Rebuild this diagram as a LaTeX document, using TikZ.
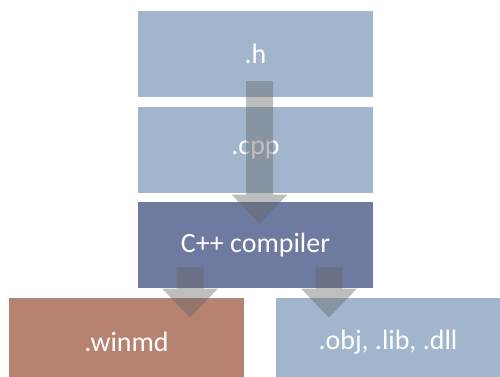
\documentclass[tikz,border=0pt]{standalone}
\usepackage{fontspec}
\setmainfont{Carlito}
\usepackage{xcolor}
\usetikzlibrary{arrows.meta,positioning,calc}

\definecolor{srcblue}{HTML}{A1B6CD}
\definecolor{compblue}{HTML}{6F7AA0}
\definecolor{mdbrown}{HTML}{B58370}
\definecolor{flowgray}{HTML}{656565}

\begin{document}
\begin{tikzpicture}[x=0.02cm, y=-0.02cm,
    every node/.style={font=\fontsize{15.9}{18}\selectfont, text=white},
    filebox/.style={rectangle, minimum width=4.7cm, minimum height=1.72cm, inner sep=0pt},
    flow/.style={draw=flowgray, line width=0.54cm,
                 -{Triangle[width=1.08cm,length=0.58cm]}}]
  \useasboundingbox (0,0) rectangle (500,376);
  % ---- source files and compiler
  \node[filebox, fill=srcblue]  (h)   at (255.5,54)  {.h};
  \node[filebox, fill=srcblue]  (cpp) at (255.5,150) {.cpp};
  \node[filebox, fill=compblue] (cc)  at (255.5,245) {C++ compiler};
  % ---- outputs (cut off by the page edge)
  \node[filebox, fill=mdbrown, minimum height=1.76cm] (md)  at (126.5,342) {.winmd};
  \node[filebox, fill=srcblue, minimum height=1.76cm, minimum width=4.48cm] (obj) at (388,342) {.obj, .lib, .dll};
  % ---- flow arrows
  \begin{scope}[transparency group, opacity=0.42]
    \draw[flow] ($(h.center)+(4,27)$) -- ($(cc.north)+(4,22)$);
  \end{scope}
  \begin{scope}[transparency group, opacity=0.42]
    \draw[flow] ($(cc.south)+(-65.5,-21)$) -- ($(md.north)+(63.5,20)$);
  \end{scope}
  \begin{scope}[transparency group, opacity=0.42]
    \draw[flow] ($(cc.south)+(73.5,-21)$) -- ($(obj.north)+(-59,20)$);
  \end{scope}
\end{tikzpicture}
\end{document}
